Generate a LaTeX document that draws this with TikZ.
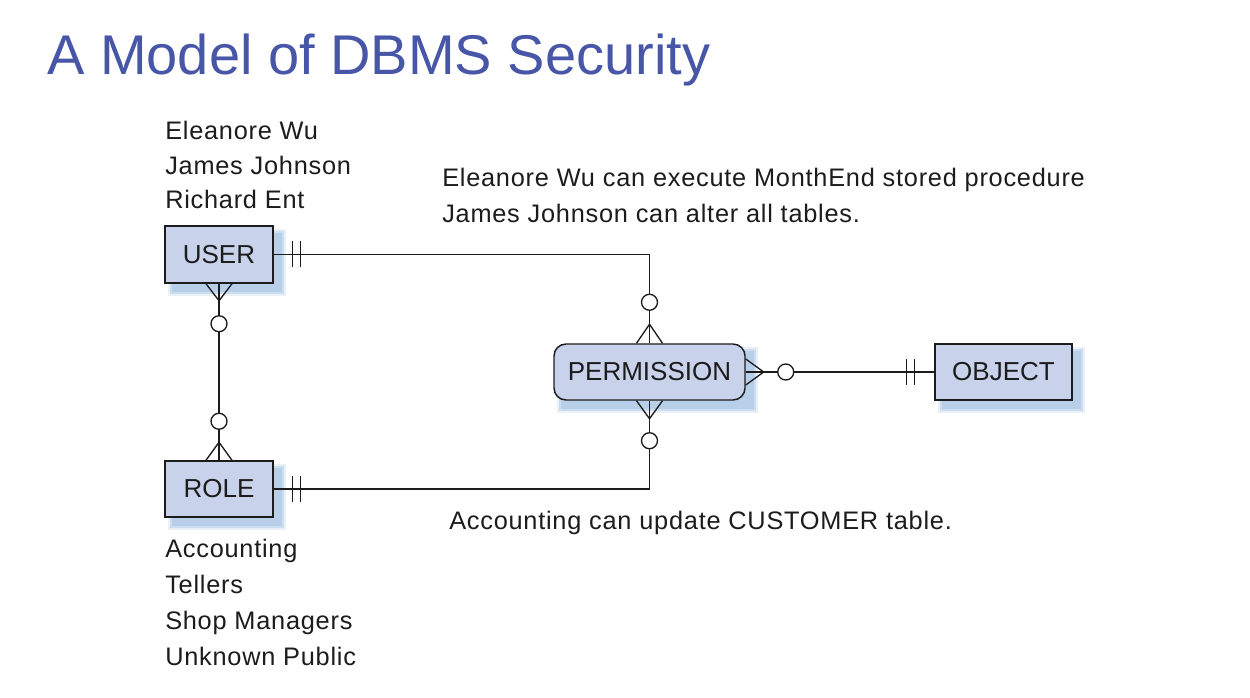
\documentclass[tikz,border=0pt]{standalone}
\usepackage{fontspec}
\setmainfont{Liberation Sans}
\newfontfamily\lblfont[LetterSpace=3]{Liberation Sans}
\usetikzlibrary{calc}
\definecolor{titleblue}{HTML}{4856A8}
\definecolor{boxfill}{HTML}{C8D2EA}
\definecolor{shadowblue}{HTML}{A9C6E6}
\definecolor{ink}{HTML}{1C1C1C}
\tikzset{
  entity/.style={draw=ink, line width=1.1pt, fill=boxfill, text=ink, font=\fontsize{19.5}{22}\selectfont, inner sep=0pt},
  conn/.style={draw=ink, line width=1pt},
  opt/.style={draw=ink, line width=1pt, fill=white},
  lbl/.style={text=ink, font=\lblfont\fontsize{19}{22}\selectfont, anchor=base west, inner sep=0pt},
}
\newcommand{\myshadow}[4]{%
  \fill[shadowblue, opacity=0.25] ($(#1)+(3,3)$) rectangle ($(#2)+(13,13)$);
  \fill[shadowblue, opacity=0.45] ($(#1)+(5,5)$) rectangle ($(#2)+(11,11)$);
  \fill[shadowblue, opacity=0.6] ($(#1)+(7,7)$) rectangle ($(#2)+(9,9)$);
}
\begin{document}
\begin{tikzpicture}[x=0.75pt,y=-0.75pt]
\useasboundingbox (0,0) rectangle (1250,698);
\fill[white] (0,0) rectangle (1250,698);

% title
\node[anchor=base west, inner sep=0pt, text=titleblue, font=\fontsize{42}{48}\selectfont] (title) at (47,75) {A Model of DBMS Security};

% shadows
\myshadow{165,226}{273,283}{}{}
\myshadow{165,461}{273,517}{}{}
\myshadow{554,344}{745,400}{}{}
\myshadow{935,344}{1072,400}{}{}

% entities
\node[entity, minimum width=81pt, minimum height=42.75pt] (user) at (219,254.5) {USER};
\node[entity, minimum width=81pt, minimum height=42pt] (role) at (219,489) {ROLE};
\node[entity, rounded corners=9pt, minimum width=143.25pt, minimum height=42pt] (perm) at (649.5,372) {PERMISSION};
\node[entity, minimum width=102.75pt, minimum height=42pt] (obj) at (1003.5,372) {OBJECT};

% USER -- PERMISSION
\coordinate (c1) at (perm.north |- user.east);
\draw[conn] (user.east) -- (c1) -- (perm.north);
\draw[conn] ($(user.east)+(19,-13)$) -- ($(user.east)+(19,13)$);
\draw[conn] ($(user.east)+(27,-13)$) -- ($(user.east)+(27,13)$);
\draw[conn] ($(perm.north)+(-13,0)$) -- ($(perm.north)+(0,-19)$) -- ($(perm.north)+(13,0)$);
\draw[opt] ($(perm.north)+(0,-41)$) circle[radius=8];

% PERMISSION -- ROLE
\coordinate (c2) at (perm.south |- role.east);
\draw[conn] (perm.south) -- (c2) -- (role.east);
\draw[conn] ($(role.east)+(19,-13)$) -- ($(role.east)+(19,13)$);
\draw[conn] ($(role.east)+(27,-13)$) -- ($(role.east)+(27,13)$);
\draw[conn] ($(perm.south)+(-13,0)$) -- ($(perm.south)+(0,18)$) -- ($(perm.south)+(13,0)$);
\draw[opt] ($(perm.south)+(0,40)$) circle[radius=8];

% PERMISSION -- OBJECT
\draw[conn] (perm.east) -- (obj.west);
\draw[conn] ($(perm.east)+(0,-13)$) -- ($(perm.east)+(18,0)$) -- ($(perm.east)+(0,13)$);
\draw[opt] ($(perm.east)+(40,0)$) circle[radius=8];
\draw[conn] ($(obj.west)+(-28,-13)$) -- ($(obj.west)+(-28,13)$);
\draw[conn] ($(obj.west)+(-20,-13)$) -- ($(obj.west)+(-20,13)$);

% USER -- ROLE
\draw[conn] (user.south) -- (role.north);
\draw[conn] ($(user.south)+(-13,0)$) -- ($(user.south)+(0,17)$) -- ($(user.south)+(13,0)$);
\draw[opt] ($(user.south)+(0,40)$) circle[radius=8];
\draw[conn] ($(role.north)+(-13,0)$) -- ($(role.north)+(0,-18)$) -- ($(role.north)+(13,0)$);
\draw[opt] ($(role.north)+(0,-39)$) circle[radius=8];

% labels
\node[lbl] (u1) at (165,139.5) {Eleanore Wu};
\node[lbl] (u2) at (165,174.5) {James Johnson};
\node[lbl] (u3) at (165,209) {Richard Ent};
\node[lbl] (p1) at (442,187) {Eleanore Wu can execute MonthEnd stored procedure};
\node[lbl] (p2) at (442,223) {James Johnson can alter all tables.};
\node[lbl] (p3) at (449,530) {Accounting can update CUSTOMER table.};
\node[lbl] (r1) at (165,557) {Accounting};
\node[lbl] (r2) at (165,593) {Tellers};
\node[lbl] (r3) at (165,629.5) {Shop Managers};
\node[lbl] (r4) at (165,665) {Unknown Public};
\end{tikzpicture}
\end{document}
